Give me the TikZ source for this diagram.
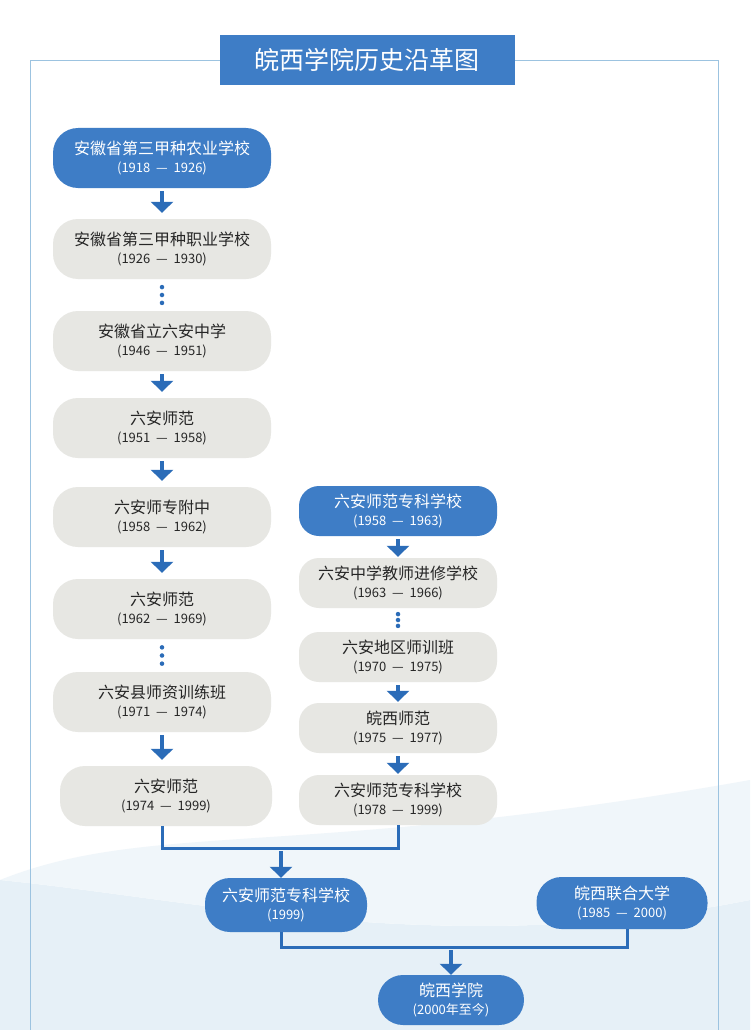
\documentclass[tikz,border=0pt]{standalone}
\usepackage{fontspec}
\setmainfont{Noto Sans CJK SC}
\usetikzlibrary{arrows.meta}
\definecolor{bl}{HTML}{3E7DC6}
\definecolor{gy}{HTML}{E7E7E3}
\definecolor{ar}{HTML}{2B6CB8}
\definecolor{fr}{HTML}{9CC3E0}
\begin{document}
\begin{tikzpicture}[x=1pt,y=-1pt,
 box/.style={rounded corners=25pt,minimum height=60pt,align=center,inner sep=0pt,font=\fontsize{16}{19}\selectfont},
 lb/.style={box,minimum width=218pt},
 rb/.style={box,minimum width=198pt,minimum height=50pt,rounded corners=20pt},
 g/.style={fill=gy,text=black!85},
 b/.style={fill=bl,text=white},
 arr/.style={ar,line width=3.5pt,shorten <=3pt,-{Triangle[length=11pt,width=22pt]}},
 ln/.style={ar,line width=3pt},
 dt/.style={fill=ar,circle,inner sep=1.6pt}]
\useasboundingbox (0,0) rectangle (750,1030);
\fill[white] (0,0) rectangle (750,1030);
\fill[fr!25] (0,1030) -- (0,880) .. controls (200,900) and (450,960) .. (750,900) -- (750,1030) -- cycle;
\fill[fr!15] (0,880) .. controls (150,820) and (300,860) .. (750,780) -- (750,900) .. controls (450,960) and (200,900) .. (0,880) -- cycle;
\draw[fr,line width=0.8pt] (30,1030) -- (30,60) -- (718,60) -- (718,1030);
\node[fill=bl,text=white,minimum width=295pt,minimum height=50pt,font=\fontsize{25}{28}\selectfont] (title) at (367,60) {皖西学院历史沿革图};
\def\yr#1{\\[-1pt]{\fontsize{13}{15}\selectfont(#1)}}
\node[lb,b] (l1) at (162,158) {安徽省第三甲种农业学校\yr{1918\ \ —\ \ 1926}};
\node[lb,g] (l2) at (162,249) {安徽省第三甲种职业学校\yr{1926\ \ —\ \ 1930}};
\node[lb,g] (l3) at (162,341) {安徽省立六安中学\yr{1946\ \ —\ \ 1951}};
\node[lb,g] (l4) at (162,428) {六安师范\yr{1951\ \ —\ \ 1958}};
\node[lb,g] (l5) at (162,517) {六安师专附中\yr{1958\ \ —\ \ 1962}};
\node[lb,g] (l6) at (162,609) {六安师范\yr{1962\ \ —\ \ 1969}};
\node[lb,g] (l7) at (162,702) {六安县师资训练班\yr{1971\ \ —\ \ 1974}};
\node[lb,g,minimum width=212pt] (l8) at (166,796) {六安师范\yr{1974\ \ —\ \ 1999}};
\node[rb,b] (r1) at (398,511) {六安师范专科学校\yr{1958\ \ —\ \ 1963}};
\node[rb,g] (r2) at (398,583) {六安中学教师进修学校\yr{1963\ \ —\ \ 1966}};
\node[rb,g] (r3) at (398,657) {六安地区师训班\yr{1970\ \ —\ \ 1975}};
\node[rb,g] (r4) at (398,728) {皖西师范\yr{1975\ \ —\ \ 1977}};
\node[rb,g] (r5) at (398,800) {六安师范专科学校\yr{1978\ \ —\ \ 1999}};
\node[box,b,minimum width=162pt,minimum height=54pt] (bb) at (286,905) {六安师范专科学校\yr{1999}};
\node[box,b,minimum width=171pt,minimum height=52pt] (cc) at (622,903) {皖西联合大学\yr{1985\ \ —\ \ 2000}};
\node[box,b,minimum width=146pt,minimum height=50pt] (dd) at (451,1000) {皖西学院\yr{2000年至今}};
\foreach \a/\b in {l1/l2,l3/l4,l4/l5,l5/l6}{\draw[arr,shorten >=6pt] (\a.south) -- (\b.north);}
\draw[arr,shorten >=6pt] (l7.south) -- (l7.south |- l8.north);
\foreach \a/\b in {r1/r2,r3/r4,r4/r5}{\draw[arr,shorten >=1pt] (\a.south) -- (\b.north);}
\foreach \a/\b in {l2/l3,l6/l7,r2/r3}{
 \path (\a.south) -- (\b.north) node[pos=0.25,dt]{} node[pos=0.5,dt]{} node[pos=0.75,dt]{};}
\coordinate (m1) at (162,848);
\coordinate (m2) at (398,848);
\coordinate (m3) at (281,848);
\draw[ln] (l8.south -| m1) -- (m1) -- (m2) -- (r5.south);
\draw[arr] (m3) -- (bb.north -| m3);
\coordinate (n1) at (281,947);
\coordinate (n2) at (627,947);
\coordinate (n3) at (451,947);
\draw[ln] (bb.south -| n1) -- (n1) -- (n2) -- (cc.south -| n2);
\draw[arr] (n3) -- (dd.north);
\end{tikzpicture}
\end{document}
